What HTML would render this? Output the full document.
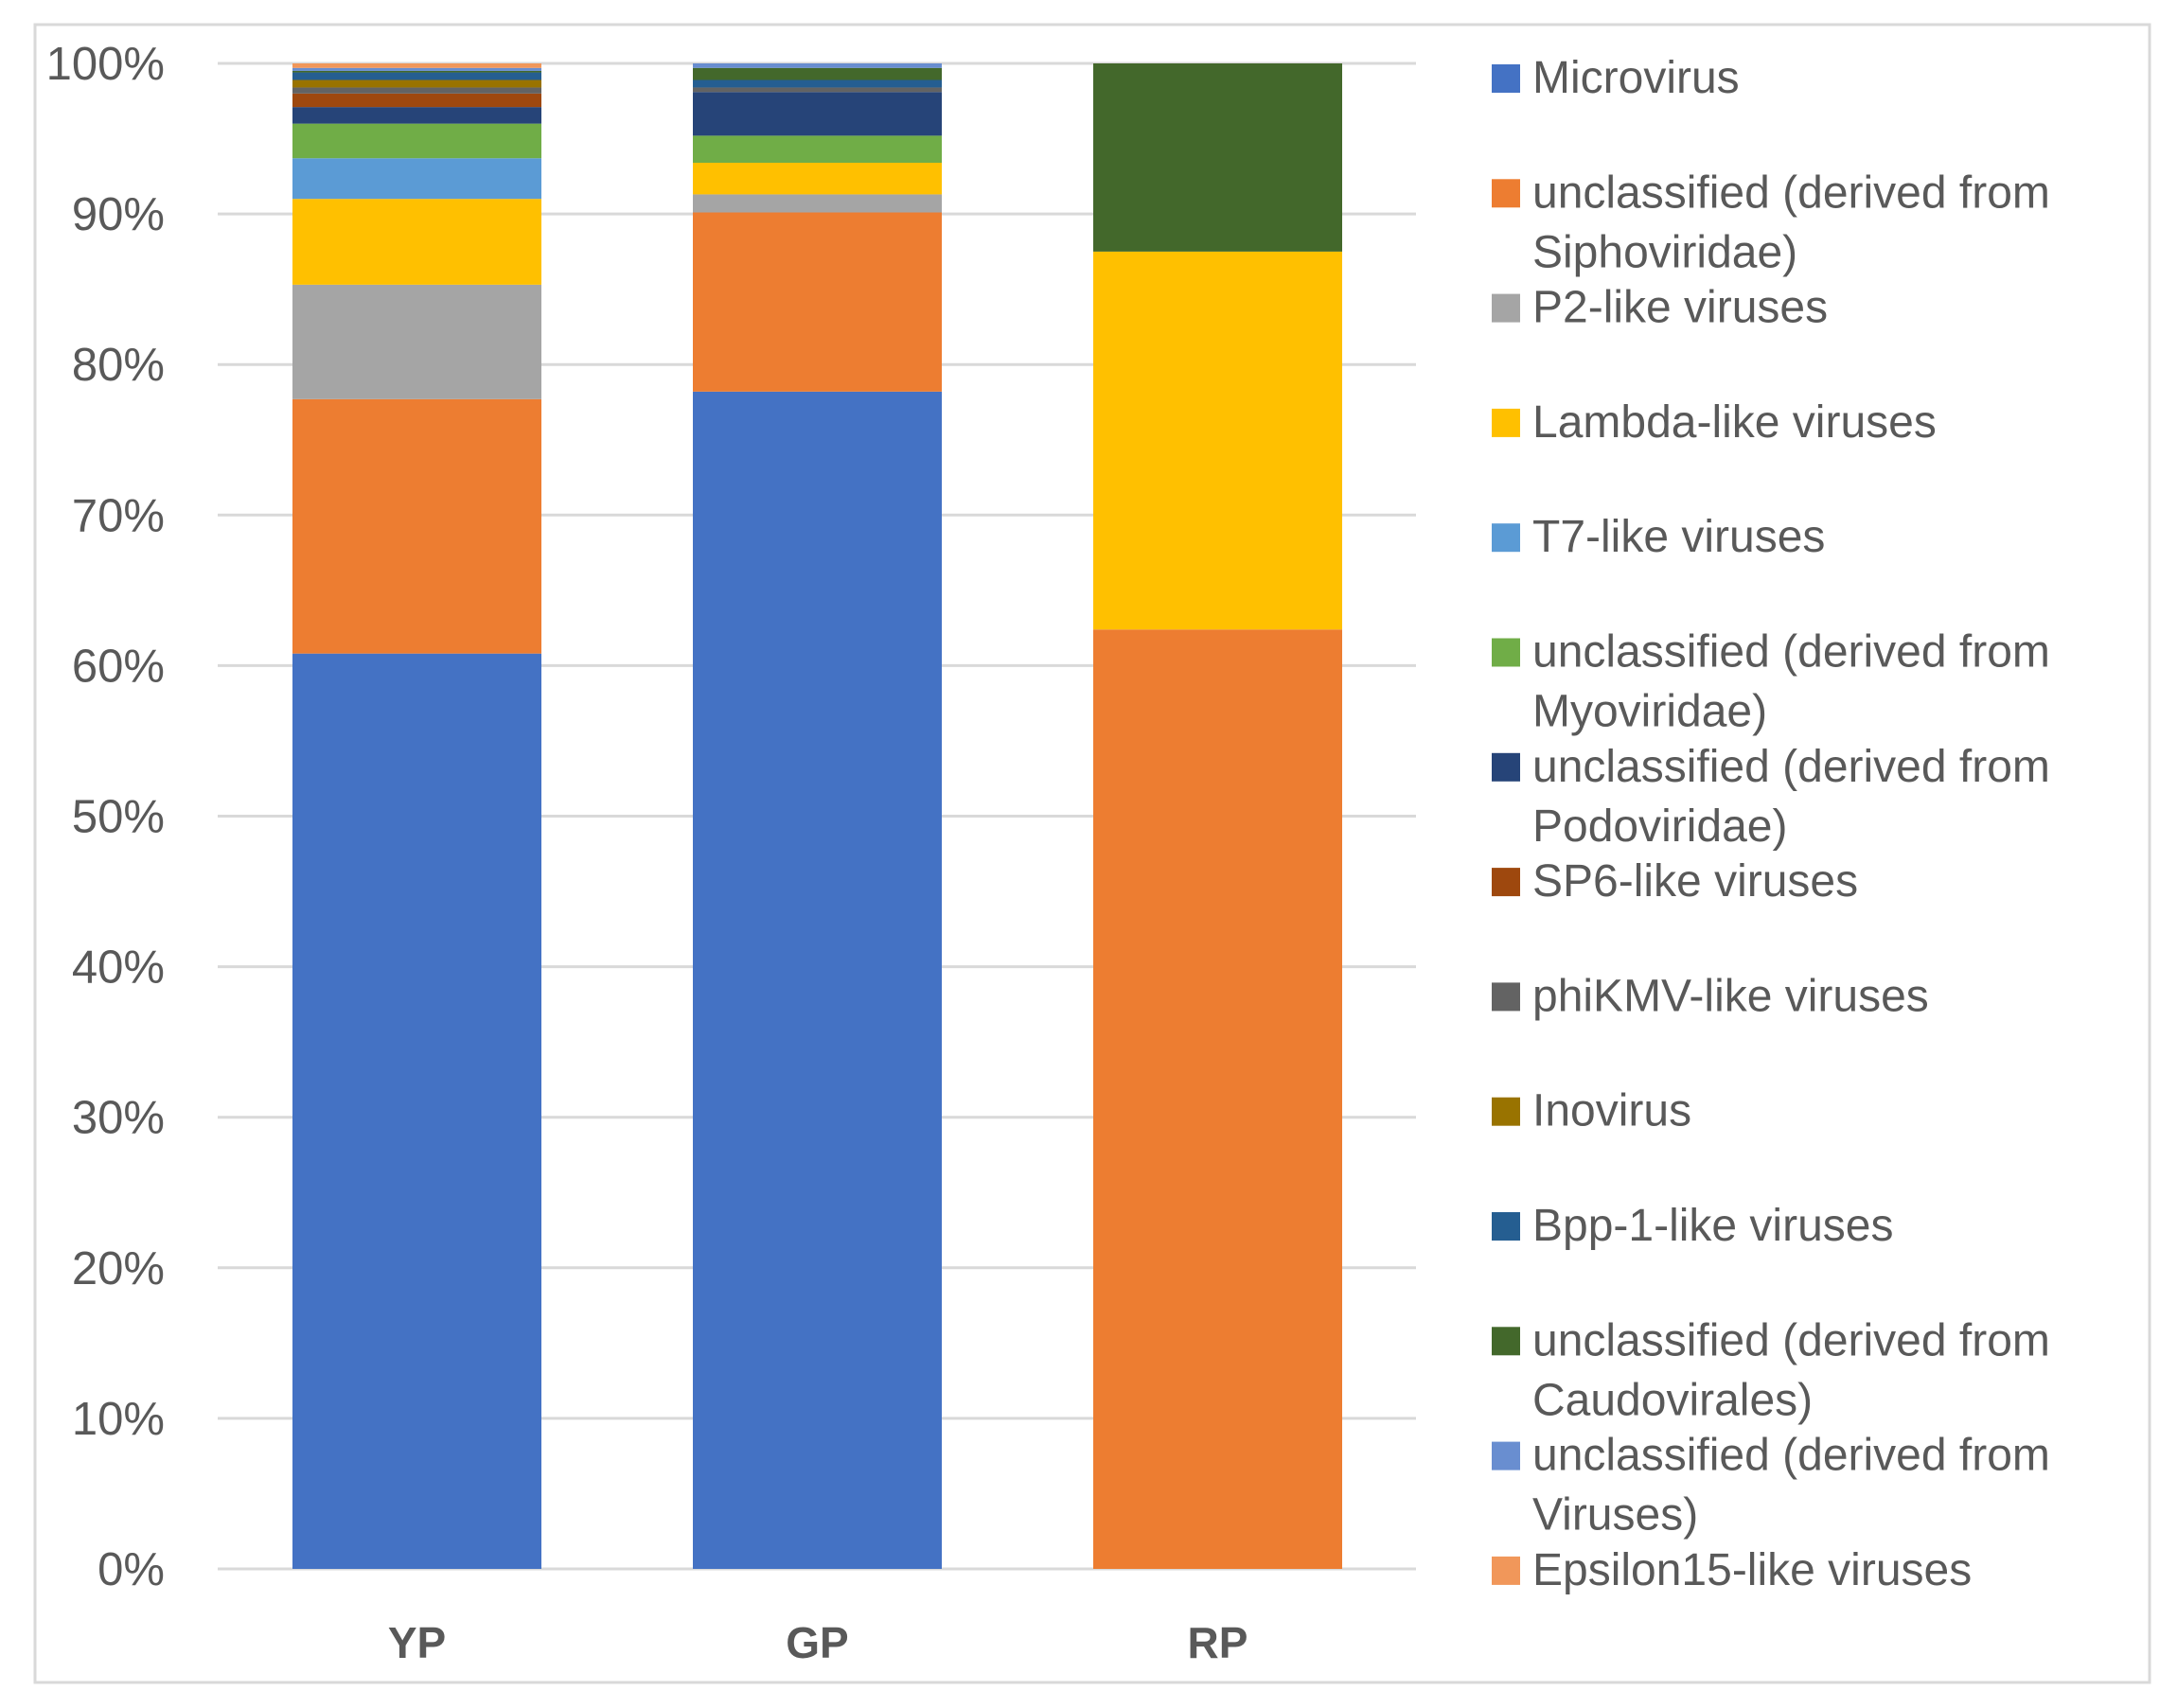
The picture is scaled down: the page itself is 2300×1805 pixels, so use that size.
<!DOCTYPE html>
<html><head><meta charset="utf-8"><style>
html,body{margin:0;padding:0;background:#fff;}
svg{display:block;font-family:"Liberation Sans",sans-serif;}
</style></head><body>
<svg id="chart" width="2300" height="1805" viewBox="0 0 2300 1805" xmlns="http://www.w3.org/2000/svg">
<rect x="37" y="26" width="2234" height="1752" fill="#fff" stroke="#d9d9d9" stroke-width="3"/>
<g id="grid"></g>
<g id="bars"></g>
<g id="yaxis"></g>
<g id="xaxis"></g>
<g id="legend"></g>
</svg>
<script>
const categories = ["YP","GP","RP"];
const seriesNames = ["Microvirus","unclassified (derived from|Siphoviridae)","P2-like viruses","Lambda-like viruses","T7-like viruses","unclassified (derived from|Myoviridae)","unclassified (derived from|Podoviridae)","SP6-like viruses","phiKMV-like viruses","Inovirus","Bpp-1-like viruses","unclassified (derived from|Caudovirales)","unclassified (derived from|Viruses)","Epsilon15-like viruses"];
const seriesColors = ["#4472C4","#ED7D31","#A5A5A5","#FFC000","#5B9BD5","#70AD47","#264478","#9E480E","#636363","#997300","#255E91","#43682B","#698ED0","#F1975A"];
const ypValues = [60.8,16.9,7.6,5.7,2.7,2.3,1.1,0.9,0.4,0.5,0.5,0.1,0.2,0.3];
const gpValues = [78.2,11.9,1.2,2.1,0,1.8,2.9,0,0.3,0,0.5,0.8,0.3,0];
const rpValues = [0,62.4,0,25.1,0,0,0,0,0,0,0,12.5,0,0];
const tickValues = [0,10,20,30,40,50,60,70,80,90,100];
const tickLabels = ["0%","10%","20%","30%","40%","50%","60%","70%","80%","90%","100%"];

const NS="http://www.w3.org/2000/svg";
const y0=1658, yTop=67, plotL=230, plotR=1496;
const yScale=v=>y0-(v/100)*(y0-yTop);
const barW=263, bandStart=309, bandStep=423;
const xScale=i=>bandStart+i*bandStep;
function mk(tag,parent,attrs){const e=document.createElementNS(NS,tag);for(const k in attrs)e.setAttribute(k,attrs[k]);parent.appendChild(e);return e;}
const grid=document.getElementById('grid'),bars=document.getElementById('bars'),yaxis=document.getElementById('yaxis'),xaxis=document.getElementById('xaxis'),legend=document.getElementById('legend');
tickValues.forEach((t,i)=>{
  const l=mk('line',grid,{x1:plotL,x2:plotR,y1:yScale(t),y2:yScale(t),stroke:'#d9d9d9','stroke-width':3});
  
  
  const tx=mk('text',yaxis,{x:174,y:yScale(t)+17,'text-anchor':'end','font-size':49,fill:'#595959'});
  tx.textContent=tickLabels[i];
  
  
});
const allValues=[ypValues,gpValues,rpValues];
allValues.forEach((vals,ci)=>{
  let cum=0;
  vals.forEach((v,si)=>{
    if(v<=0)return;
    const r=mk('rect',bars,{x:xScale(ci),y:yScale(cum+v),width:barW,height:yScale(cum)-yScale(cum+v),fill:seriesColors[si]});
    
    
    cum+=v;
  });
  const t=mk('text',xaxis,{x:xScale(ci)+barW/2,y:1752,'text-anchor':'middle','font-size':46,'font-weight':'bold',fill:'#595959'});
  t.textContent=categories[ci];
  
  
});
seriesNames.forEach((n,i)=>{
  const by=98+i*121.3;
  const g=mk('g',legend,{});
  
  
  mk('rect',g,{x:1576,y:by-30,width:30,height:30,fill:seriesColors[i]});
  n.split('|').forEach((line,j)=>{
    const t=mk('text',g,{x:1619,y:by+j*63,'font-size':48,fill:'#595959'});
    t.textContent=line;
  });
});
</script>
</body></html>
